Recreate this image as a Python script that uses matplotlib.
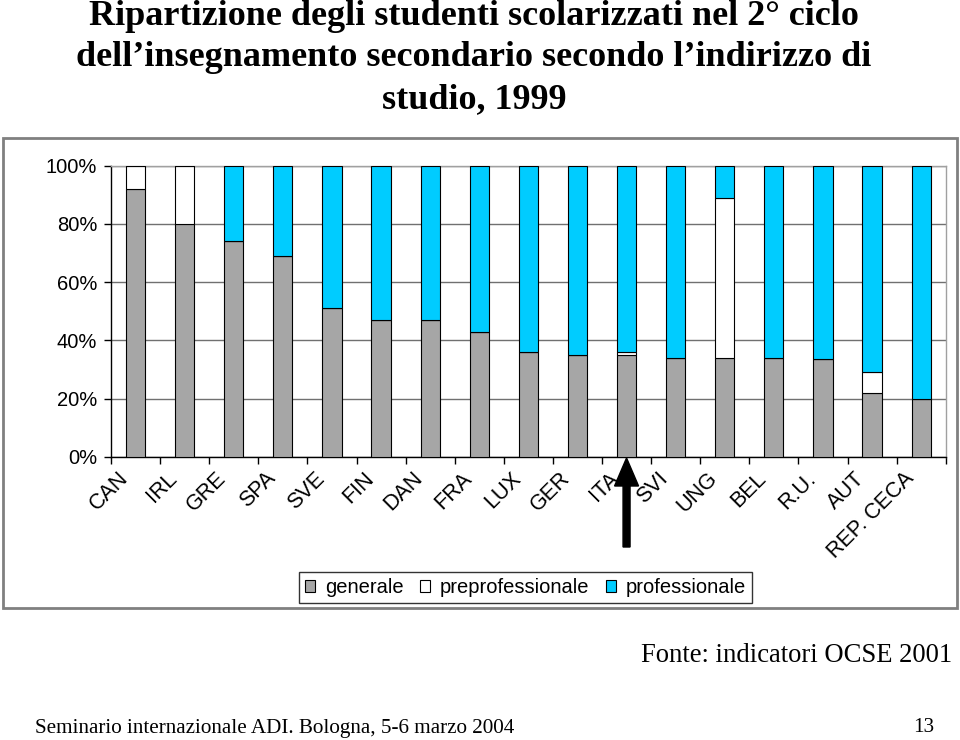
import matplotlib
matplotlib.use("Agg")
import matplotlib.pyplot as plt
import numpy as np
from matplotlib.patches import Rectangle, FancyArrow
import matplotlib.transforms as mtransforms

categories = ["CAN", "IRL", "GRE", "SPA", "SVE", "FIN", "DAN", "FRA", "LUX",
              "GER", "ITA", "SVI", "UNG", "BEL", "R.U.", "AUT", "REP. CECA"]
generale = [92, 80, 74, 69, 51, 47, 47, 43, 36, 35, 35, 34, 34, 34, 33.6, 22, 20]
preprofessionale = [8, 20, 0, 0, 0, 0, 0, 0, 0, 0, 1, 0, 55, 0, 0, 7, 0]
professionale = [0, 0, 26, 31, 49, 53, 53, 57, 64, 65, 64, 66, 11, 66, 66.4, 71, 80]
series_names = ["generale", "preprofessionale", "professionale"]
yticks = [0, 20, 40, 60, 80, 100]
highlight = "ITA"

colors = ["#A6A6A6", "#FFFFFF", "#00CCFF"]

fig = plt.figure(figsize=(9.6, 7.4), dpi=100)
W, H = 960, 740

# outer chart border
fig.add_artist(Rectangle((3 / W, 1 - 608 / H), 954 / W, 470 / H, transform=fig.transFigure,
                         fill=False, edgecolor="#808080", linewidth=2))

ax = fig.add_axes([111 / W, 1 - 456.7 / H, (945.7 - 111) / W, (456.7 - 165.7) / H])
x = np.arange(len(categories))
bw = 0.39
g = np.array(generale)
p = np.array(preprofessionale)
q = np.array(professionale)
ax.bar(x, g, bw, color=colors[0], edgecolor="black", linewidth=0.8, label=series_names[0], zorder=3)
ax.bar(x, p, bw, bottom=g, color=colors[1], edgecolor="black", linewidth=0.8, label=series_names[1], zorder=3)
ax.bar(x, q, bw, bottom=g + p, color=colors[2], edgecolor="black", linewidth=0.8, label=series_names[2], zorder=3)

ax.set_xlim(-0.5, len(categories) - 0.5)
ax.set_ylim(0, 100)
ax.set_yticks(yticks)
ax.set_yticklabels([f"{v}%" for v in yticks], fontfamily="Liberation Sans", fontsize=14.5)
ax.yaxis.grid(True, color="#707070", linewidth=1, zorder=0)
ax.tick_params(axis="y", length=5, direction="out", pad=5, width=1)

ax.set_xticks(x)
ax.set_xticks(np.arange(-0.5, len(categories), 1), minor=True)
ax.tick_params(axis="x", which="major", length=0, pad=8)
ax.tick_params(axis="x", which="minor", length=5, direction="out", width=1)
labels = ax.set_xticklabels(categories, fontfamily="Liberation Sans", fontsize=15.5,
                            rotation=45, ha="right", va="top", rotation_mode="anchor")
offset = mtransforms.ScaledTranslation(-18 / 100, 0, fig.dpi_scale_trans)
for lab in labels:
    lab.set_transform(lab.get_transform() + offset)

for s in ["left", "bottom"]:
    ax.spines[s].set_color("black")
    ax.spines[s].set_linewidth(1)
for s in ["top", "right"]:
    ax.spines[s].set_color("#A0A0A0")
    ax.spines[s].set_linewidth(1)

leg = fig.legend(loc="center", bbox_to_anchor=(525.5 / W, 1 - 587.5 / H), ncol=3,
                 prop={"family": "Liberation Sans", "size": 14.5},
                 frameon=True, fancybox=False, handlelength=0.5, handleheight=0.5,
                 handletextpad=0.5, columnspacing=0.8, borderpad=0.3)
leg.get_frame().set_edgecolor("black")
leg.get_frame().set_linewidth(1)

# arrow pointing at highlighted category
idx = categories.index(highlight)
xf = (ax.transData + fig.transFigure.inverted()).transform((idx, 0))[0]
y_tail = 1 - 547 / H
y_tip = 1 - 458 / H
fig.add_artist(FancyArrow(xf, y_tail, 0, y_tip - y_tail, width=7 / W, head_width=24 / W,
                          head_length=28 / H, length_includes_head=True,
                          color="black", transform=fig.transFigure, zorder=5))

fig.text(474 / W, 1 - 0 / H,
         "Ripartizione degli studenti scolarizzati nel 2° ciclo\n"
         "dell\u2019insegnamento secondario secondo l\u2019indirizzo di\n"
         "studio, 1999",
         ha="center", va="top", fontfamily="Liberation Serif", fontweight="bold",
         fontsize=26, linespacing=1.34)

fig.text(952 / W, 1 - 655 / H, "Fonte: indicatori OCSE 2001", ha="right", va="center",
         fontfamily="Liberation Serif", fontsize=19.2)
fig.text(35 / W, 1 - 728 / H, "Seminario internazionale ADI. Bologna, 5-6 marzo 2004",
         ha="left", va="center", fontfamily="Liberation Serif", fontsize=15.2)
fig.text(934 / W, 1 - 728 / H, "13", ha="right", va="center",
         fontfamily="Liberation Serif", fontsize=15.2)

fig.savefig("out.png", dpi=100)
